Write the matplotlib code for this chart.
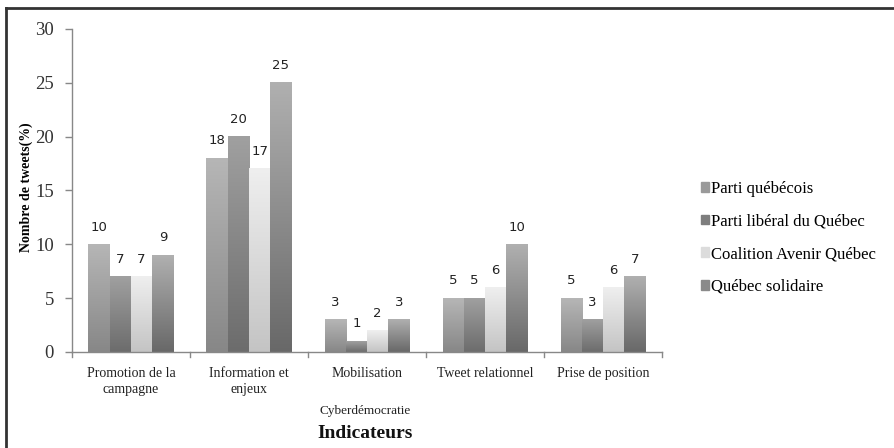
import numpy as np
import matplotlib
matplotlib.use("Agg")
import matplotlib.pyplot as plt
from matplotlib.colors import LinearSegmentedColormap
from matplotlib.lines import Line2D
from matplotlib.patches import Rectangle

categories = ["Promotion de la\ncampagne", "Information et\nenjeux", "Mobilisation",
              "Tweet relationnel", "Prise de position"]
series_names = ["Parti québécois", "Parti libéral du Québec",
                "Coalition Avenir Québec", "Québec solidaire"]
pq = [10, 18, 3, 5, 5]
plq = [7, 20, 1, 5, 3]
caq = [7, 17, 2, 6, 6]
qs = [9, 25, 3, 10, 7]
values = [pq, plq, caq, qs]
yticks = [0, 5, 10, 15, 20, 25, 30]

# top / bottom shades of each series' vertical gradient
shades = [("#b6b6b6", "#878787"), ("#a0a0a0", "#6c6c6c"),
          ("#efefef", "#c4c4c4"), ("#b0b0b0", "#686868")]
legend_colors = ["#9a9a9a", "#7e7e7e", "#dcdcdc", "#8a8a8a"]

serif = "Liberation Serif"

fig = plt.figure(figsize=(8.95, 4.48), dpi=100)
ax = fig.add_axes([0.0804, 0.2143, 0.6593, 0.721])

x = np.arange(len(categories))
width = 0.18
grad = np.linspace(1, 0, 256).reshape(-1, 1)
for i, (vals, (top, bot)) in enumerate(zip(values, shades)):
    offs = x + (i - 1.5) * width
    bars = ax.bar(offs, vals, width, color="none", edgecolor="none", zorder=2)
    cmap = LinearSegmentedColormap.from_list(f"s{i}", [bot, top])
    for b, v in zip(bars, vals):
        x0, y0 = b.get_x(), b.get_y()
        w, h = b.get_width(), b.get_height()
        ax.imshow(grad, cmap=cmap, vmin=0, vmax=1, aspect="auto",
                  extent=(x0, x0 + w, y0, y0 + h), zorder=2, interpolation="bilinear")
        ax.text(x0 + w / 2, v + 1.0, f"{v}", ha="center", va="bottom",
                fontsize=9.5, family="DejaVu Sans", color="#222222")

ax.set_xlim(-0.5, len(categories) - 0.5)
ax.set_ylim(0, 30)
ax.set_yticks(yticks)
ax.set_yticklabels([str(t) for t in yticks], family=serif, fontsize=13.5, color="#333333")
ax.set_xticks(x)
ax.set_xticklabels(categories, family=serif, fontsize=10, color="#222222",
                   linespacing=1.25)
ax.tick_params(axis="x", length=0, pad=11)
ax.tick_params(axis="y", length=5, color="#888888", width=1, pad=8)
# category separators on the x axis
for b in np.arange(-0.5, len(categories) + 0.5, 1.0):
    ax.plot([b, b], [0, -0.5], color="#888888", lw=1, clip_on=False, zorder=3)
for side in ["top", "right"]:
    ax.spines[side].set_visible(False)
for side in ["left", "bottom"]:
    ax.spines[side].set_color("#888888")
    ax.spines[side].set_linewidth(1)

ax.set_ylabel("Nombre de tweets(%)", family=serif, fontsize=10, fontweight="bold")
ax.yaxis.set_label_coords(-0.066, 0.51)

fig.text(0.408, 0.075, "Cyberdémocratie", family=serif, fontsize=9.5, ha="center",
         color="#222222")
fig.text(0.408, 0.022, "Indicateurs", family=serif, fontsize=14, fontweight="bold",
         ha="center", color="#111111")

handles = [Rectangle((0, 0), 1, 1, color=c) for c in legend_colors]
leg = fig.legend(handles, series_names, loc="upper left", bbox_to_anchor=(0.766, 0.63),
                 frameon=False, prop={"family": serif, "size": 12},
                 handlelength=0.5, handleheight=0.5, handletextpad=0.15,
                 labelspacing=1.0)

# figure frame (top and left edges)
fig.add_artist(Line2D([0.007, 1.0], [0.982, 0.982], color="#333333", lw=2,
                      transform=fig.transFigure))
fig.add_artist(Line2D([0.007, 0.007], [0.0, 0.982], color="#333333", lw=2,
                      transform=fig.transFigure))

fig.savefig("out.png", dpi=100)
